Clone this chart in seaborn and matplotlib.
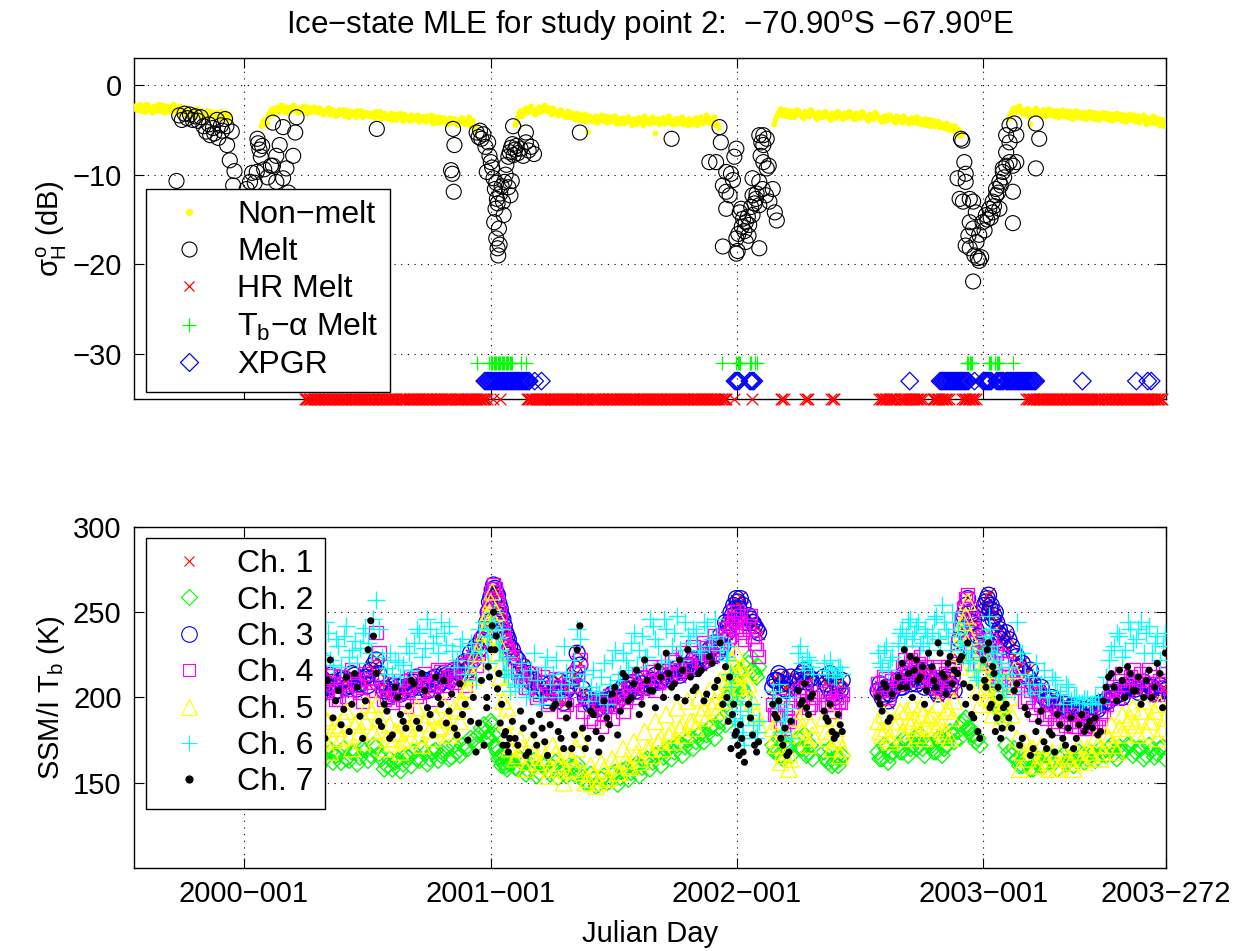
import numpy as np
import matplotlib
matplotlib.use("Agg")
import matplotlib.pyplot as plt
import seaborn as sns
from matplotlib.lines import Line2D

# ---------------------------------------------------------------------------
# Time axis: days counted from 2000-001
# ---------------------------------------------------------------------------
tick_days = [0, 366, 731, 1096, 1367]
tick_labels = ["2000\u2212001", "2001\u2212001", "2002\u2212001", "2003\u2212001", "2003\u2212272"]
x_range = (-163, 1367)

# ---------------------------------------------------------------------------
# Upper panel: backscatter sigma0_H (dB)
# ---------------------------------------------------------------------------
# non-melt retrievals, two passes, each sampled every 4 days inside its spans
nonmelt_spans_am = [(-162, -22), (26, 342), (402, 702), (786, 1062), (1134, 1362)]
nonmelt_spans_pm = [(-160, -20), (28, 344), (404, 704), (788, 1064), (1136, 1364)]
nonmelt_sigma_am = [
    # 1999 winter
    -2.4, -2.8, -2.2, -2.6, -3.0, -2.3, -2.7, -2.5, -2.9, -2.2, -2.6, -3.1, -2.4, -2.8, -2.5, -3.0, -2.7, -2.4,
    -2.9, -3.2, -2.8, -3.4, -3.0, -2.7, -3.3, -3.6, -3.1, -2.9, -3.5, -3.2, -3.8, -3.4, -3.0, -3.6, -3.9, -3.3,
    # 2000 winter
    -4.6, -3.9, -4.3, -3.2, -2.7, -3.0, -2.5, -2.8, -2.4, -3.1, -2.6, -2.9, -2.3, -2.7, -3.0, -2.5, -2.8, -3.2, -2.6, -2.9,
    -2.7, -3.1, -2.8, -3.3, -2.9, -2.6, -3.2, -3.0, -3.4, -2.8, -3.1, -3.5, -2.9, -3.3, -3.0, -3.6, -3.2, -2.9, -3.4, -3.1,
    -3.5, -3.2, -3.7, -3.3, -3.0, -3.6, -3.4, -3.8, -3.2, -3.5, -3.9, -3.4, -3.7, -3.3, -3.6, -4.0, -3.5, -3.8, -3.4, -3.9,
    -3.6, -4.1, -3.7, -3.4, -3.9, -4.2, -3.6, -4.0, -3.8, -4.4, -3.7, -4.1, -3.9, -4.5, -3.8, -4.2, -4.0, -3.6, -4.3, -5.1,
    # 2001 winter
    -4.5, -3.6, -2.9, -3.3, -2.6, -3.0, -2.4, -2.8, -3.2, -2.5, -2.9, -2.3, -2.7, -3.1, -2.6, -3.0, -3.4, -2.8, -3.2, -3.6,
    -3.0, -3.4, -3.8, -3.2, -3.6, -4.0, -3.3, -5.3, -3.7, -4.1, -3.5, -3.9, -3.4, -3.8, -4.2, -3.6, -4.0, -3.5, -3.9, -4.3,
    -3.7, -4.1, -3.6, -4.0, -3.8, -4.4, -3.7, -4.1, -3.5, -3.9, -4.3, -3.6, -5.4, -3.8, -4.2, -3.7, -4.1, -3.5, -3.9, -4.4,
    -3.8, -4.2, -3.6, -4.0, -4.5, -3.9, -4.3, -3.7, -4.1, -3.6, -4.0, -3.4, -3.8, -4.2, -3.6, -4.4,
    # 2002 winter
    -4.4, -3.5, -3.0, -3.4, -2.8, -3.2, -3.6, -3.0, -3.4, -2.9, -3.3, -3.7, -3.1, -3.5, -2.9, -3.3, -3.8, -3.2, -3.6, -3.0,
    -3.4, -3.9, -3.3, -3.7, -3.1, -3.5, -3.2, -3.6, -3.0, -3.4, -3.8, -3.3, -3.7, -3.2, -3.6, -4.0, -3.4, -3.8, -3.3, -3.7,
    -4.1, -3.5, -3.9, -3.4, -3.8, -4.2, -3.6, -4.0, -3.5, -3.9, -4.3, -3.7, -4.1, -3.6, -4.0, -4.4, -3.8, -4.2, -4.6, -4.0,
    -4.4, -4.1, -4.5, -4.8, -4.3, -4.7, -5.0, -4.6, -5.4, -5.7,
    # 2003 winter
    -3.8, -3.0, -2.6, -2.9, -2.4, -2.8, -3.2, -2.7, -4.4, -3.1, -2.6, -3.0, -3.4, -2.8, -3.2, -2.7, -3.1, -3.5, -2.9, -3.3,
    -2.8, -3.2, -3.6, -3.0, -3.4, -2.9, -3.3, -3.7, -3.1, -3.5, -3.0, -3.4, -3.8, -3.2, -3.6, -3.1, -3.5, -3.9, -3.3, -3.7,
    -3.2, -3.6, -4.0, -3.4, -3.8, -3.3, -3.7, -4.1, -3.5, -3.9, -3.4, -4.4, -3.8, -4.2, -3.6, -4.0, -4.5, -3.9,
]
nonmelt_sigma_pm = [
    # 1999 winter
    -2.7, -2.3, -2.9, -2.5, -2.2, -2.8, -3.1, -2.4, -2.6, -2.9, -2.3, -2.7, -3.0, -2.5, -2.2, -2.7, -3.1, -2.8,
    -3.3, -2.6, -3.1, -2.9, -3.5, -3.2, -2.9, -3.1, -3.7, -3.3, -3.0, -3.6, -3.1, -3.7, -3.5, -3.1, -3.4, -3.8,
    # 2000 winter
    -4.1, -4.4, -3.5, -2.9, -3.3, -2.6, -3.0, -2.3, -2.7, -2.5, -3.0, -2.4, -2.8, -3.1, -2.6, -2.9, -2.4, -2.7, -3.0, -2.5,
    -3.0, -2.6, -3.2, -2.9, -2.7, -3.3, -2.8, -3.5, -3.0, -3.2, -2.8, -3.3, -3.6, -3.0, -3.4, -2.9, -3.3, -3.6, -3.1, -3.4,
    -3.2, -3.6, -3.0, -3.5, -3.8, -3.2, -3.7, -3.4, -3.9, -3.3, -3.6, -3.2, -4.0, -3.5, -3.8, -3.4, -3.9, -3.5, -4.1, -3.6,
    -4.0, -3.5, -3.9, -4.3, -3.6, -3.9, -4.2, -3.7, -4.3, -3.9, -4.2, -3.8, -4.4, -4.0, -3.7, -4.4, -4.1, -4.6, -4.0, -4.8,
    # 2001 winter
    -4.2, -3.2, -3.5, -2.8, -3.1, -2.6, -2.9, -3.3, -2.7, -3.0, -2.5, -2.9, -2.6, -3.3, -2.8, -3.2, -2.9, -3.3, -3.5, -3.0,
    -3.6, -3.2, -3.5, -3.9, -3.4, -3.7, -4.1, -3.5, -3.9, -3.6, -4.2, -3.7, -4.0, -3.5, -3.9, -4.1, -3.6, -4.3, -3.8, -4.0,
    -4.3, -3.8, -4.1, -4.5, -3.9, -4.2, -3.9, -4.5, -4.0, -4.3, -3.8, -4.2, -4.0, -4.4, -3.9, -4.3, -3.8, -4.2, -4.4, -3.8,
    -4.3, -3.9, -4.4, -4.1, -3.8, -4.4, -4.0, -4.5, -3.8, -4.3, -3.8, -4.1, -4.3, -3.9, -4.5, -4.8,
    # 2002 winter
    -3.9, -3.2, -2.7, -3.1, -3.5, -2.9, -3.2, -3.6, -2.8, -3.2, -3.6, -3.0, -3.4, -2.8, -3.2, -3.6, -3.1, -3.5, -3.1, -3.5,
    -3.7, -3.2, -3.6, -3.0, -3.4, -3.8, -3.4, -3.1, -3.5, -3.8, -3.2, -3.6, -3.0, -3.5, -3.8, -3.3, -3.7, -3.1, -3.6, -3.9,
    -3.6, -4.0, -3.4, -3.7, -4.1, -3.5, -3.9, -4.2, -3.7, -4.1, -3.8, -4.2, -3.7, -4.3, -3.9, -4.1, -4.5, -3.9, -4.3, -4.6,
    -4.2, -4.7, -4.4, -4.5, -5.0, -4.6, -4.9, -5.3, -5.0, -5.5,
    # 2003 winter
    -3.4, -2.7, -3.1, -2.5, -2.9, -3.3, -2.8, -3.5, -2.9, -3.3, -2.8, -3.2, -2.9, -3.5, -3.0, -3.4, -2.9, -3.3, -3.6, -3.0,
    -3.5, -3.0, -3.4, -3.8, -3.2, -3.6, -3.1, -3.5, -3.8, -3.2, -3.7, -3.1, -3.5, -3.9, -3.3, -3.7, -3.2, -3.6, -4.0, -3.4,
    -3.8, -3.3, -3.7, -4.1, -3.5, -3.9, -3.4, -3.8, -4.2, -3.6, -4.0, -3.7, -4.1, -3.5, -4.3, -3.8, -4.2, -4.6,
]

# melt retrievals (day, sigma0_H)
melt_points = [
    # 1999/2000 summer
    (-100, -10.7), (-96, -3.4), (-92, -3.9), (-88, -3.2), (-84, -3.7), (-80, -3.3), (-76, -3.9), (-72, -3.5),
    (-68, -4.0), (-64, -3.6), (-60, -4.6), (-56, -5.2), (-52, -4.4), (-50, -5.6), (-46, -4.8), (-44, -5.4),
    (-40, -3.9), (-38, -5.9), (-34, -4.5), (-32, -5.1), (-28, -3.8), (-26, -4.6), (-25, -6.7), (-21, -8.4),
    (-18, -5.2), (-14, -9.6), (-16, -11.2), (-12, -13.5), (-8, -15.2), (-4, -14.0), (0, -12.8), (4, -11.6),
    (9, -10.8), (12, -9.8), (16, -10.9), (19, -9.7), (20, -6.0), (21, -6.5), (23, -7.2), (25, -8.0),
    (27, -6.8), (30, -9.4), (35, -10.3), (40, -9.0), (43, -4.2), (43, -9.0), (48, -7.9), (48, -10.8),
    (53, -6.7), (58, -4.7), (58, -10.4), (63, -9.3), (66, -12.0), (73, -7.9), (76, -5.3), (78, -3.6),
    (-10, -16.5), (0, -17.5), (5, -14.5), (197, -4.9),
    # 2000/2001 summer
    (307, -9.5), (309, -9.9), (310, -4.9), (312, -6.7), (311, -11.9),
    (345, -5.3), (348, -5.8), (350, -5.1), (352, -6.0), (355, -5.5), (358, -6.9), (362, -6.4), (364, -7.9),
    (366, -8.6), (360, -9.7), (368, -9.2), (370, -10.4), (372, -11.6), (374, -10.9), (375, -12.7), (373, -13.8),
    (376, -13.2), (371, -15.3), (378, -16.0), (374, -17.1), (379, -17.8), (376, -18.2), (377, -19.0), (380, -12.1),
    (382, -11.3), (384, -13.0), (386, -10.8), (388, -10.0), (385, -14.5), (389, -8.9), (392, -8.0), (394, -7.5),
    (396, -7.0), (398, -6.6), (400, -7.8), (402, -7.2), (404, -6.8), (406, -7.6), (410, -7.1), (414, -7.9),
    (418, -6.4), (422, -7.3), (426, -6.9), (430, -7.7), (399, -4.6), (418, -5.3), (392, -11.4), (395, -12.3),
    (397, -10.7), (498, -5.3), (634, -6.0),
    # 2001/2002 summer
    (705, -4.7), (707, -6.4), (690, -8.6), (700, -8.6), (730, -7.1), (727, -8.0), (715, -9.7), (722, -9.9),
    (710, -11.2), (715, -11.9), (720, -12.3), (715, -13.8), (735, -14.2), (740, -14.9), (744, -15.3), (749, -15.6),
    (754, -14.5), (730, -17.1), (733, -16.6), (710, -18.0), (730, -18.8), (732, -18.5), (764, -18.2), (744, -17.5),
    (754, -10.4), (764, -10.8), (769, -11.6), (774, -12.3), (779, -13.0), (784, -11.6), (787, -14.2), (790, -15.1),
    (764, -13.4), (759, -12.7), (754, -12.3), (766, -7.9), (770, -8.6), (775, -9.3), (778, -9.0), (770, -6.7),
    (767, -6.4), (764, -5.6), (770, -5.6), (775, -6.0), (738, -15.8), (742, -16.3), (747, -14.7), (752, -13.6),
    (757, -13.2), (760, -12.1), (748, -16.8), (725, -10.6), (737, -13.8),
    # 2002/2003 summer
    (1063, -6.0), (1065, -6.2), (1068, -8.6), (1058, -10.4), (1070, -9.9), (1070, -10.8), (1061, -12.7),
    (1066, -13.0), (1076, -12.7), (1081, -13.0), (1085, -14.2), (1076, -15.3), (1081, -16.0), (1090, -16.7),
    (1070, -17.9), (1076, -18.2), (1083, -19.0), (1088, -19.3), (1093, -19.2), (1090, -19.6), (1081, -21.9),
    (1095, -15.3), (1100, -14.5), (1105, -13.8), (1110, -13.0), (1115, -12.3), (1110, -14.2), (1120, -13.8),
    (1115, -11.6), (1120, -10.8), (1125, -9.7), (1130, -9.0), (1135, -8.6), (1140, -9.0), (1145, -8.6),
    (1125, -9.3), (1130, -7.5), (1135, -6.4), (1145, -5.6), (1130, -5.6), (1135, -4.5), (1142, -4.3),
    (1140, -11.9), (1140, -15.4), (1174, -4.3), (1179, -6.0), (1174, -9.3), (1098, -16.2), (1102, -15.0),
    (1107, -14.8), (1112, -13.5), (1118, -12.0), (1122, -11.2), (1127, -10.3), (1074, -16.8), (1086, -17.5),
]

# melt flags from the other detectors, drawn as rows near the bottom of the panel
hr_melt_spans = [(90, 226), (230, 308), (312, 361), (369, 369), (379, 379), (419, 511), (515, 715),
                 (727, 727), (753, 753), (796, 800), (832, 836), (871, 875), (942, 966), (972, 1006),
                 (1021, 1046), (1065, 1086), (1160, 1271), (1275, 1362)]
tb_alpha_spans = [(345, 345), (364, 399), (410, 410), (418, 418), (708, 708), (730, 736), (750, 752),
                  (758, 760), (1072, 1080), (1104, 1108), (1114, 1120), (1140, 1140)]
xpgr_spans = [(357, 424), (431, 431), (441, 441), (728, 734), (750, 756), (987, 987), (1032, 1075),
              (1083, 1083), (1096, 1108), (1116, 1126), (1130, 1175), (1243, 1243), (1323, 1323),
              (1340, 1340), (1345, 1345)]
hr_melt_level = -35.0
tb_alpha_level = -31.0
xpgr_level = -33.0

# ---------------------------------------------------------------------------
# Lower panel: SSM/I brightness temperatures (K), two passes
# ---------------------------------------------------------------------------
tb_spans_am = [(60, 356, 8), (360, 392, 4), (398, 710, 8), (716, 740, 4), (748, 760, 6), (784, 808, 6),
               (822, 840, 6), (860, 884, 6), (940, 958, 6), (970, 1012, 6), (1020, 1050, 6), (1058, 1088, 6),
               (1096, 1124, 4), (1130, 1362, 8)]
tb_spans_pm = [(64, 360, 8), (362, 394, 4), (402, 714, 8), (718, 742, 4), (751, 763, 6), (787, 811, 6),
               (825, 843, 6), (863, 887, 6), (943, 961, 6), (973, 1015, 6), (1023, 1053, 6), (1061, 1091, 6),
               (1098, 1126, 4), (1134, 1366, 8)]

ch1_am = [206, 207, 204, 205, 211, 203, 208, 210, 207, 208, 205, 210, 208, 212, 209, 211, 217, 223, 208, 206,
          202, 207, 203, 208, 208, 207, 209, 209, 211, 210, 212, 212, 214, 219, 215, 223, 227, 237,
          245, 255, 262, 263, 259, 251, 245, 239, 233,
          229, 221, 219, 213, 211, 205, 204, 207, 206, 199, 205, 209, 227, 204, 200, 195, 195, 196, 200, 200,
          204, 204, 208, 203, 209, 205, 211, 208, 213, 210, 215, 212, 217, 217, 218, 219, 223, 223, 227, 231,
          237, 245, 247, 253, 255, 259, 253,
          247, 243, 241,
          205, 211, 211, 206, 207,
          211, 215, 208, 212,
          211, 207, 201, 209, 203,
          203, 201, 205, 203,
          209, 207, 211, 209, 213, 211, 215, 213,
          205, 205, 207, 207, 209, 213,
          223, 241, 253, 251, 245, 237,
          249, 255, 261, 253, 249, 243, 241, 235,
          237, 231, 223, 221, 211, 209, 203, 201, 197, 197, 193, 197, 191, 195, 189, 193, 194, 194, 195, 199,
          199, 203, 203, 207, 204, 208, 203, 207, 202, 206]
ch1_pm = [209, 203, 206, 214, 204, 210, 200, 209, 212, 205, 209, 207, 213, 206, 210, 208, 218, 215, 203, 202,
          206, 203, 208, 206, 211, 209, 203, 212, 206, 215, 209, 217, 211, 222, 225, 231, 233, 242,
          249, 260, 265, 262, 254, 249, 241, 237, 229,
          225, 215, 213, 208, 205, 207, 201, 202, 211, 196, 207, 213, 220, 199, 197, 192, 199, 194, 203, 197,
          207, 201, 210, 205, 212, 206, 214, 209, 216, 212, 218, 215, 220, 221, 222, 224, 229, 231, 237, 243,
          243, 249, 255, 257, 253, 245, 245,
          245, 243, 237,
          211, 213, 209, 203, 213,
          209, 217, 211, 209,
          209, 213, 201, 205, 211,
          207, 203, 197, 205,
          207, 213, 211, 217, 209, 211, 207, 213,
          211, 201, 207, 211, 209, 203,
          235, 247, 259, 243, 241, 229,
          253, 259, 251, 247, 249, 239, 233, 231,
          235, 225, 219, 213, 217, 203, 207, 197, 201, 193, 197, 191, 196, 189, 194, 187, 195, 196, 199, 201,
          205, 199, 207, 207, 204, 208, 207, 201, 208, 203]
ch2_am = [166, 170, 163, 168, 172, 164, 169, 166, 171, 162, 167, 170, 163, 168, 165, 169, 166, 171, 164, 160,
          158, 163, 161, 165, 168, 163, 167, 164, 169, 166, 170, 165, 168, 172, 170, 175, 178, 184,
          180, 176, 184, 172, 168, 165, 162, 160, 163,
          162, 158, 161, 157, 163, 156, 160, 155, 162, 158, 154, 159, 161, 153, 150, 152, 149, 154, 151, 156,
          153, 158, 156, 161, 159, 164, 162, 167, 165, 170, 168, 173, 171, 176, 174, 179, 178, 183, 182, 188,
          196, 202, 206, 212, 208, 214, 204,
          220, 216, 212,
          172, 168, 166, 174, 170,
          176, 170, 166, 172,
          168, 162, 160, 165, 164,
          168, 164, 170, 166,
          172, 168, 174, 170, 176, 172, 170, 174,
          172, 168, 174, 170, 176, 178,
          180, 184, 188, 182, 178, 176,
          230, 232, 226, 220, 212, 204, 196, 190,
          172, 166, 164, 160, 162, 158, 164, 160, 166, 162, 164, 161, 165, 163, 166, 164, 167, 165, 168, 170,
          167, 171, 169, 172, 168, 170, 166, 169, 167, 171]
ch2_pm = [162, 168, 172, 164, 166, 170, 160, 164, 168, 166, 162, 164, 168, 161, 170, 163, 172, 167, 158, 164,
          162, 157, 166, 160, 164, 170, 161, 168, 163, 167, 164, 172, 166, 170, 176, 172, 182, 176,
          176, 186, 178, 170, 164, 160, 166, 158, 161,
          159, 164, 155, 160, 154, 161, 157, 159, 153, 156, 160, 155, 157, 150, 155, 148, 152, 150, 155, 149,
          157, 152, 159, 154, 163, 158, 166, 160, 169, 164, 172, 166, 175, 170, 178, 174, 182, 176, 186, 184,
          200, 198, 210, 204, 216, 206, 200,
          224, 214, 218,
          168, 176, 164, 170, 166,
          170, 178, 168, 164,
          164, 170, 162, 160, 166,
          164, 172, 162, 168,
          168, 176, 166, 172, 170, 178, 166, 172,
          168, 176, 166, 172, 180, 174,
          176, 186, 182, 178, 174, 172,
          236, 228, 222, 216, 208, 200, 192, 186,
          168, 170, 160, 164, 158, 162, 160, 166, 163, 158, 166, 162, 160, 168, 162, 168, 163, 170, 166, 172,
          164, 168, 172, 166, 170, 164, 172, 165, 170, 164]
ch3_am = [205, 208, 203, 206, 210, 204, 207, 211, 206, 209, 204, 211, 207, 213, 208, 212, 216, 222, 209, 205,
          203, 206, 204, 207, 209, 206, 210, 208, 212, 209, 213, 211, 215, 218, 216, 222, 228, 236,
          244, 256, 263, 264, 260, 252, 246, 238, 234,
          228, 222, 218, 214, 210, 206, 203, 208, 205, 200, 204, 210, 226, 205, 199, 196, 194, 197, 199, 201,
          203, 205, 207, 204, 208, 206, 210, 209, 212, 211, 214, 213, 216, 218, 217, 220, 222, 224, 226, 230,
          238, 244, 248, 252, 256, 258, 254,
          248, 244, 240,
          206, 210, 212, 205, 208,
          212, 214, 209, 211,
          212, 206, 202, 208, 204,
          204, 200, 206, 202,
          210, 206, 212, 208, 214, 210, 216, 212,
          206, 204, 208, 206, 210, 212,
          224, 240, 254, 250, 246, 236,
          250, 256, 260, 254, 248, 244, 240, 236,
          238, 230, 224, 220, 212, 208, 204, 200, 198, 196, 194, 196, 192, 194, 190, 192, 195, 193, 196, 198,
          200, 202, 204, 206, 205, 207, 204, 206, 203, 205]
ch3_pm = [210, 202, 207, 213, 205, 209, 201, 208, 213, 204, 210, 206, 214, 205, 211, 207, 219, 214, 204, 201,
          207, 202, 209, 205, 212, 208, 204, 211, 207, 214, 210, 216, 212, 221, 226, 230, 234, 241,
          250, 259, 266, 261, 255, 248, 242, 236, 230,
          224, 216, 212, 209, 204, 208, 200, 203, 210, 197, 206, 214, 219, 200, 196, 193, 198, 195, 202, 198,
          206, 202, 209, 206, 211, 207, 213, 210, 215, 213, 217, 216, 219, 222, 221, 225, 228, 232, 236, 244,
          242, 250, 254, 258, 252, 246, 244,
          246, 242, 238,
          210, 214, 208, 204, 212,
          210, 216, 212, 208,
          208, 214, 200, 206, 210,
          208, 202, 198, 204,
          206, 214, 210, 218, 208, 212, 206, 214,
          210, 202, 206, 212, 208, 204,
          234, 248, 258, 244, 240, 230,
          254, 258, 252, 246, 250, 238, 234, 230,
          234, 226, 218, 214, 216, 204, 206, 198, 200, 194, 196, 192, 195, 190, 193, 188, 194, 197, 198, 202,
          204, 200, 206, 208, 203, 209, 206, 202, 207, 204]
ch4_am = [201, 212, 198, 208, 203, 214, 200, 209, 204, 213, 199, 208, 205, 210, 203, 214, 209, 238, 205, 200,
          197, 203, 199, 206, 211, 203, 214, 205, 209, 215, 207, 216, 211, 219, 214, 224, 226, 232,
          240, 252, 262, 264, 255, 245, 238, 230, 226,
          224, 215, 212, 206, 214, 202, 209, 198, 211, 204, 196, 207, 215, 192, 200, 186, 197, 190, 201, 195,
          204, 198, 209, 203, 212, 206, 215, 209, 218, 213, 221, 216, 224, 219, 226, 222, 229, 225, 231, 236,
          228, 236, 242, 246, 250, 248, 240,
          242, 236, 228,
          196, 190, 184, 192, 186,
          204, 198, 202, 196,
          202, 198, 196, 200, 197,
          208, 204, 211, 206,
          212, 218, 214, 222, 216, 220, 213, 218,
          212, 206, 216, 210, 218, 214,
          232, 246, 258, 252, 240, 226,
          236, 228, 222, 230, 216, 226, 212, 220,
          220, 212, 216, 208, 200, 194, 202, 190, 196, 186, 192, 184, 190, 183, 188, 182, 186, 183, 192, 200,
          206, 210, 204, 212, 208, 214, 206, 212, 202, 208]
ch4_pm = [207, 196, 213, 202, 210, 197, 215, 203, 208, 199, 212, 201, 216, 207, 198, 211, 204, 226, 199, 208,
          202, 210, 195, 212, 201, 208, 207, 199, 216, 203, 212, 209, 218, 207, 221, 219, 234, 242,
          248, 258, 266, 258, 250, 240, 234, 228, 220,
          218, 210, 206, 214, 200, 212, 196, 206, 201, 192, 211, 199, 222, 196, 188, 194, 183, 196, 188, 200,
          192, 206, 200, 214, 207, 218, 204, 216, 210, 222, 214, 226, 218, 230, 222, 232, 226, 236, 228, 240,
          234, 244, 250, 240, 244, 238, 234,
          248, 232, 224,
          190, 198, 182, 188, 194,
          198, 206, 194, 200,
          196, 204, 192, 198, 202,
          204, 212, 200, 210,
          208, 222, 216, 226, 210, 224, 218, 214,
          208, 218, 204, 214, 206, 220,
          240, 252, 260, 246, 234, 220,
          230, 220, 234, 214, 228, 210, 224, 208,
          214, 206, 210, 198, 204, 190, 196, 188, 192, 182, 188, 186, 183, 186, 182, 184, 183, 188, 196, 204,
          200, 214, 208, 216, 210, 206, 216, 204, 210, 214]
ch5_am = [178, 184, 174, 181, 187, 176, 183, 179, 186, 175, 182, 188, 177, 184, 180, 186, 192, 196, 181, 176,
          173, 179, 175, 182, 186, 178, 185, 181, 189, 183, 187, 180, 192, 198, 205, 212, 222, 238,
          232, 250, 262, 244, 226, 212, 198, 186, 178,
          172, 166, 170, 162, 168, 160, 165, 158, 167, 162, 157, 164, 170, 156, 152, 155, 150, 158, 153, 160,
          156, 163, 159, 167, 162, 170, 166, 174, 170, 178, 174, 182, 178, 186, 182, 190, 188, 194, 192, 198,
          210, 216, 222, 218, 212, 206, 214,
          208, 198, 190,
          182, 172, 162, 166, 158,
          188, 180, 176, 184,
          188, 176, 170, 182, 166,
          186, 178, 182, 174,
          186, 180, 192, 184, 188, 178, 190, 182,
          190, 182, 186, 178, 194, 188,
          226, 238, 248, 236, 220, 204,
          214, 206, 222, 198, 210, 196, 204, 192,
          210, 190, 176, 168, 164, 170, 160, 166, 158, 164, 160, 166, 162, 168, 164, 170, 166, 172, 168, 176,
          172, 182, 178, 188, 184, 192, 180, 186, 176, 182]
ch5_pm = [186, 172, 190, 178, 170, 192, 174, 188, 168, 184, 176, 192, 170, 186, 174, 196, 180, 188, 170, 184,
          180, 168, 188, 176, 194, 172, 190, 176, 182, 196, 178, 194, 186, 204, 214, 226, 232, 248,
          244, 256, 236, 250, 232, 220, 206, 194, 170,
          164, 176, 158, 174, 162, 170, 154, 172, 160, 150, 166, 158, 176, 150, 160, 148, 162, 152, 164, 156,
          170, 160, 174, 164, 180, 170, 186, 176, 190, 180, 194, 184, 198, 186, 200, 194, 204, 198, 210, 204,
          204, 222, 212, 226, 206, 218, 200,
          214, 192, 184,
          176, 186, 168, 178, 164,
          182, 192, 172, 178,
          180, 192, 174, 176, 170,
          180, 190, 176, 186,
          192, 176, 186, 196, 182, 194, 176, 188,
          184, 196, 180, 192, 176, 198,
          218, 244, 256, 226, 212, 196,
          220, 200, 212, 190, 216, 202, 186, 196,
          200, 216, 158, 174, 170, 160, 172, 162, 168, 158, 170, 164, 158, 172, 162, 168, 176, 164, 178, 184,
          168, 190, 186, 194, 178, 198, 186, 192, 196, 188]
ch6_am = [222, 235, 218, 228, 240, 221, 232, 225, 238, 219, 230, 236, 224, 233, 229, 241, 226, 257, 224, 217,
          214, 221, 219, 226, 232, 238, 229, 240, 236, 244, 231, 227, 222, 234, 218, 226, 240, 244,
          228, 236, 242, 240, 235, 228, 222, 216, 212,
          214, 208, 212, 204, 226, 200, 218, 208, 222, 204, 215, 212, 240, 206, 198, 216, 202, 220, 208, 228,
          214, 222, 232, 218, 236, 224, 242, 230, 246, 222, 238, 228, 244, 232, 238, 226, 242, 234, 236, 232,
          222, 214, 196, 186, 180, 192, 178,
          190, 184, 180,
          204, 196, 180, 188, 200,
          226, 220, 224, 218,
          220, 214, 216, 212, 218,
          226, 218, 230, 222,
          232, 240, 236, 246, 238, 244, 232, 236,
          238, 248, 232, 244, 236, 250,
          238, 230, 226, 222, 216, 210,
          224, 236, 248, 230, 218, 226, 212, 206,
          206, 214, 244, 226, 208, 212, 204, 216, 200, 210, 202, 208, 198, 200, 197, 199, 196, 198, 206, 222,
          230, 236, 228, 240, 234, 244, 238, 226, 236, 230]
ch6_pm = [230, 218, 240, 224, 214, 236, 226, 244, 222, 234, 218, 242, 228, 220, 238, 232, 246, 240, 214, 226,
          222, 212, 230, 216, 240, 224, 246, 232, 226, 238, 242, 218, 230, 214, 232, 210, 228, 236,
          220, 244, 250, 236, 228, 240, 214, 224, 204,
          206, 220, 200, 216, 210, 196, 224, 214, 200, 230, 208, 222, 234, 214, 206, 204, 212, 196, 222, 210,
          226, 216, 238, 228, 224, 246, 234, 220, 240, 230, 248, 222, 236, 240, 228, 244, 230, 246, 228, 224,
          230, 206, 188, 198, 176, 184, 172,
          196, 176, 186,
          198, 208, 186, 194, 176,
          230, 216, 222, 214,
          216, 222, 212, 218, 214,
          220, 228, 216, 224,
          238, 230, 244, 234, 242, 230, 240, 228,
          246, 234, 254, 240, 228, 244,
          232, 242, 220, 228, 212, 222,
          232, 228, 240, 222, 214, 208, 220, 200,
          218, 204, 226, 214, 202, 220, 208, 200, 212, 204, 196, 206, 200, 197, 199, 196, 200, 197, 212, 228,
          238, 224, 244, 232, 240, 226, 242, 232, 222, 238]
ch7_am = [196, 212, 185, 205, 190, 215, 182, 200, 210, 188, 204, 193, 180, 214, 189, 198, 245, 214, 183, 192,
          178, 200, 186, 195, 208, 182, 204, 190, 212, 196, 185, 202, 178, 190, 175, 200, 185, 172,
          200, 212, 242, 228, 205, 185, 172, 180, 168,
          186, 172, 182, 168, 178, 190, 174, 184, 196, 176, 188, 170, 228, 182, 176, 190, 168, 198, 184, 206,
          192, 212, 200, 216, 196, 210, 204, 218, 200, 214, 208, 222, 198, 212, 206, 216, 202, 220, 210, 196,
          200, 212, 190, 178, 172, 184, 168,
          196, 178, 168,
          196, 188, 176, 182, 168,
          204, 198, 194, 200,
          192, 186, 180, 178, 184,
          200, 192, 206, 188,
          212, 220, 206, 224, 216, 210, 218, 204,
          218, 206, 226, 212, 220, 208,
          214, 224, 196, 206, 188, 180,
          222, 206, 232, 196, 214, 188, 200, 182,
          196, 182, 208, 176, 190, 170, 186, 174, 180, 168, 184, 172, 188, 176, 190, 183, 182, 178, 198, 212,
          206, 216, 200, 214, 204, 196, 210, 200, 220, 194]
ch7_pm = [205, 188, 216, 178, 200, 194, 208, 176, 222, 198, 184, 212, 196, 206, 176, 228, 236, 186, 196, 176,
          206, 190, 182, 210, 186, 214, 194, 178, 200, 210, 192, 182, 208, 196, 186, 168, 210, 194,
          218, 228, 250, 236, 214, 196, 178, 172, 176,
          176, 192, 166, 186, 172, 182, 166, 194, 180, 170, 196, 178, 242, 170, 192, 180, 176, 188, 202, 178,
          214, 198, 208, 190, 222, 204, 194, 212, 226, 206, 200, 216, 228, 204, 214, 198, 224, 206, 232, 218,
          186, 170, 196, 180, 166, 176, 162,
          188, 172, 174,
          190, 198, 172, 166, 186,
          196, 208, 190, 202,
          188, 196, 176, 190, 180,
          196, 208, 186, 202,
          206, 228, 214, 200, 222, 212, 196, 226,
          210, 232, 214, 202, 224, 216,
          222, 208, 232, 190, 200, 176,
          210, 228, 194, 218, 180, 206, 176, 194,
          188, 204, 172, 194, 166, 180, 192, 170, 178, 190, 176, 182, 170, 184, 180, 186, 188, 180, 206, 214,
          198, 210, 218, 204, 212, 200, 216, 206, 214, 226]
channel_labels = ["Ch. 1", "Ch. 2", "Ch. 3", "Ch. 4", "Ch. 5", "Ch. 6", "Ch. 7"]


def span_days(spans, step):
    return np.concatenate([np.arange(a, b + 1, step) for a, b in spans])


def tb_span_days(spans):
    return np.concatenate([np.arange(a, b + 1, s) for a, b, s in spans])


nonmelt_days = np.concatenate([span_days(nonmelt_spans_am, 4), span_days(nonmelt_spans_pm, 4)])
nonmelt_sigma = nonmelt_sigma_am + nonmelt_sigma_pm
melt_days = [p[0] for p in melt_points]
melt_sigma = [p[1] for p in melt_points]
hr_days = span_days(hr_melt_spans, 2)
tba_days = span_days(tb_alpha_spans, 2)
xpgr_days = span_days(xpgr_spans, 2)
tb_days = np.concatenate([tb_span_days(tb_spans_am), tb_span_days(tb_spans_pm)])

# ---------------------------------------------------------------------------
# Style
# ---------------------------------------------------------------------------
sns.set_theme(style="white")
plt.rcParams.update({
    "font.family": ["Liberation Sans", "DejaVu Sans"],
    "mathtext.fontset": "custom",
    "mathtext.rm": "Liberation Sans",
    "mathtext.it": "Liberation Sans",
    "mathtext.bf": "Liberation Sans:bold",
    "axes.edgecolor": "black",
    "axes.linewidth": 1.0,
    "xtick.direction": "in",
    "ytick.direction": "in",
    "xtick.major.size": 7,
    "ytick.major.size": 7,
    "xtick.major.width": 0.8,
    "ytick.major.width": 0.8,
    "xtick.color": "black",
    "ytick.color": "black",
    "text.color": "black",
    "axes.labelcolor": "black",
})

YELLOW, RED, GREEN, BLUE = (1, 1, 0), (1, 0, 0), (0, 1, 0), (0, 0, 1)
MAGENTA, CYAN, BLACK = (1, 0, 1), (0, 1, 1), (0, 0, 0)
FS = 21          # tick labels and axis labels
FS_TITLE = 22.5
FS_LEG = 23

fig = plt.figure(figsize=(12.47, 9.51), dpi=100)
ax1 = fig.add_axes([0.10746, 0.5804, 0.8276, 0.3586])
ax2 = fig.add_axes([0.10746, 0.0873, 0.8276, 0.3586])


def style_axes(ax):
    ax.set_xlim(*x_range)
    ax.set_xticks(tick_days)
    ax.tick_params(axis="both", which="major", labelsize=FS, pad=9,
                   top=True, right=True, bottom=True, left=True)
    ax.grid(True, color="black", linestyle=(0, (1, 5)), linewidth=0.8)
    ax.set_axisbelow(True)
    for sp in ax.spines.values():
        sp.set_visible(True)
        sp.set_color("black")
        sp.set_linewidth(1.0)
        sp.set_zorder(2.5)


# ---------------------------------------------------------------------------
# Upper panel
# ---------------------------------------------------------------------------
style_axes(ax1)
sns.scatterplot(x=nonmelt_days, y=nonmelt_sigma, ax=ax1, marker="o", s=18, color=YELLOW,
                edgecolor="none", linewidth=0, legend=False, zorder=3)
sns.scatterplot(x=melt_days, y=melt_sigma, ax=ax1, marker="o", s=117, color=BLACK,
                facecolors="none", edgecolor=BLACK, linewidth=0.8, legend=False, zorder=4)
sns.scatterplot(x=hr_days, y=np.full(len(hr_days), hr_melt_level), ax=ax1, marker="x", s=70,
                color=RED, linewidth=0.9, legend=False, zorder=5, clip_on=False)
sns.scatterplot(x=tba_days, y=np.full(len(tba_days), tb_alpha_level), ax=ax1, marker="+", s=110,
                color=GREEN, linewidth=0.9, legend=False, zorder=5)
sns.scatterplot(x=xpgr_days, y=np.full(len(xpgr_days), xpgr_level), ax=ax1, marker="D", s=80,
                color=BLUE, facecolors="none", edgecolor=BLUE, linewidth=0.9, legend=False, zorder=5)
ax1.set_ylim(-35, 3)
ax1.set_yticks([-30, -20, -10, 0])
ax1.set_yticklabels(["\u221230", "\u221220", "\u221210", "0"])
ax1.set_xticklabels([])
ax1.set_xlabel("")
ax1.set_ylabel(r"$\sigma^{\rm o}_{\rm H}$ (dB)", fontsize=FS, labelpad=2)
ax1.set_title("Ice\u2212state MLE for study point 2:  \u221270.90$^{\\rm o}$S \u221267.90$^{\\rm o}$E",
              fontsize=FS_TITLE, pad=17)

top_handles = [
    Line2D([], [], ls="none", marker="o", ms=4.2, mfc=YELLOW, mec=YELLOW, label="Non\u2212melt"),
    Line2D([], [], ls="none", marker="o", ms=10.8, mfc="none", mec=BLACK, mew=0.8, label="Melt"),
    Line2D([], [], ls="none", marker="x", ms=7.5, color=RED, mew=0.9, label="HR Melt"),
    Line2D([], [], ls="none", marker="+", ms=10.5, color=GREEN, mew=0.9, label="T$_{\\rm b}$\u2212\u03b1 Melt"),
    Line2D([], [], ls="none", marker="D", ms=8.9, mfc="none", mec=BLUE, mew=0.9, label="XPGR"),
]
leg1 = ax1.legend(handles=top_handles, loc="upper left", bbox_to_anchor=(0.0116, 0.616),
                  fontsize=FS_LEG, frameon=True, fancybox=False, framealpha=1, edgecolor="black",
                  borderpad=0.35, labelspacing=0.22, handlelength=2.0, handletextpad=0.5,
                  borderaxespad=0)
leg1.get_frame().set_linewidth(1.0)
leg1.set_zorder(10)

# ---------------------------------------------------------------------------
# Lower panel
# ---------------------------------------------------------------------------
style_axes(ax2)
channel_styles = [
    (ch1_am + ch1_pm, "x", 66, RED, "line"),
    (ch2_am + ch2_pm, "D", 66, GREEN, "open"),
    (ch3_am + ch3_pm, "o", 130, BLUE, "open"),
    (ch4_am + ch4_pm, "s", 95, MAGENTA, "open"),
    (ch5_am + ch5_pm, "^", 140, YELLOW, "open"),
    (ch6_am + ch6_pm, "+", 170, CYAN, "line"),
    (ch7_am + ch7_pm, "o", 26, BLACK, "dot"),
]
for i, (vals, mk, size, col, kind) in enumerate(channel_styles):
    if kind == "open":
        sns.scatterplot(x=tb_days, y=vals, ax=ax2, marker=mk, s=size, color=col, facecolors="none",
                        edgecolor=col, linewidth=0.95, legend=False, zorder=3 + i * 0.1)
    elif kind == "dot":
        sns.scatterplot(x=tb_days, y=vals, ax=ax2, marker=mk, s=size, color=col, edgecolor="none",
                        linewidth=0, legend=False, zorder=3 + i * 0.1)
    else:
        sns.scatterplot(x=tb_days, y=vals, ax=ax2, marker=mk, s=size, color=col, linewidth=0.95,
                        legend=False, zorder=3 + i * 0.1)
ax2.set_ylim(100, 300)
ax2.set_yticks([150, 200, 250, 300])
ax2.set_xticklabels(tick_labels)
ax2.set_xlabel("Julian Day", fontsize=FS, labelpad=8)
ax2.set_ylabel("SSM/I T$_{\\rm b}$ (K)", fontsize=FS, labelpad=4)

bottom_handles = [
    Line2D([], [], ls="none", marker="x", ms=7.5, color=RED, mew=0.8, label=channel_labels[0]),
    Line2D([], [], ls="none", marker="D", ms=7.9, mfc="none", mec=GREEN, mew=0.8, label=channel_labels[1]),
    Line2D([], [], ls="none", marker="o", ms=11.2, mfc="none", mec=BLUE, mew=0.8, label=channel_labels[2]),
    Line2D([], [], ls="none", marker="s", ms=9.2, mfc="none", mec=MAGENTA, mew=0.8, label=channel_labels[3]),
    Line2D([], [], ls="none", marker="^", ms=11.6, mfc="none", mec=YELLOW, mew=0.8, label=channel_labels[4]),
    Line2D([], [], ls="none", marker="+", ms=12.2, color=CYAN, mew=0.8, label=channel_labels[5]),
    Line2D([], [], ls="none", marker="o", ms=4.9, mfc=BLACK, mec=BLACK, label=channel_labels[6]),
]
leg2 = ax2.legend(handles=bottom_handles, loc="upper left", bbox_to_anchor=(0.0116, 0.9677),
                  fontsize=FS_LEG, frameon=True, fancybox=False, framealpha=1, edgecolor="black",
                  borderpad=0.35, labelspacing=0.2, handlelength=2.0, handletextpad=0.5,
                  borderaxespad=0)
leg2.get_frame().set_linewidth(1.0)
leg2.set_zorder(10)

fig.savefig("out.png", dpi=100)
